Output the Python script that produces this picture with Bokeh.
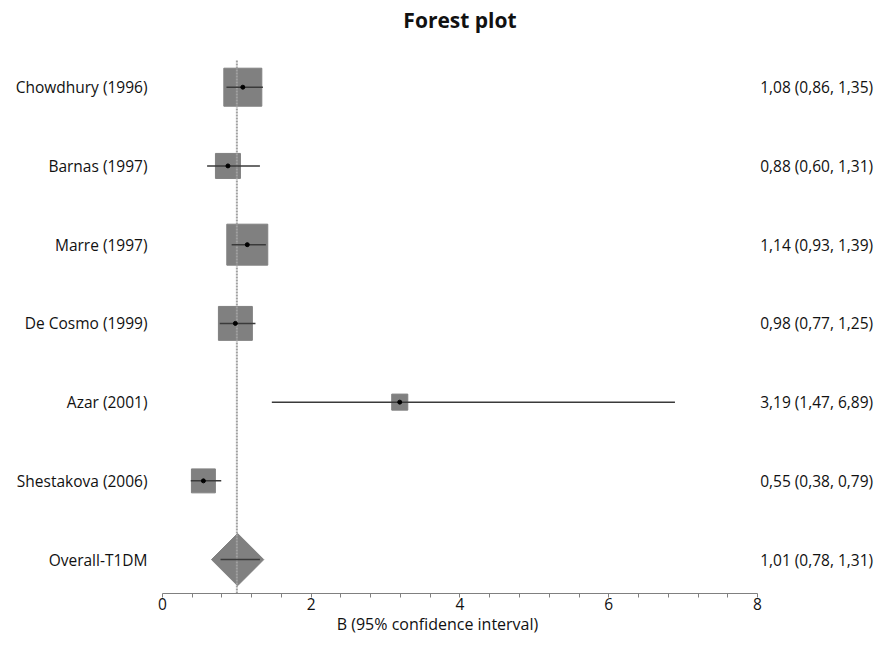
from bokeh.plotting import figure
from bokeh.models import FixedTicker, ColumnDataSource, Range1d
from bokeh.core.properties import value
from bokeh.embed import file_html
from bokeh.resources import INLINE
import numpy as np

studies = ["Chowdhury (1996)", "Barnas (1997)", "Marre (1997)", "De Cosmo (1999)",
           "Azar (2001)", "Shestakova (2006)"]
est = [1.08, 0.88, 1.14, 0.98, 3.19, 0.55]
lo = [0.86, 0.60, 0.93, 0.77, 1.47, 0.38]
hi = [1.35, 1.31, 1.39, 1.25, 6.89, 0.79]
weights = [25.2, 10.9, 29.3, 20.1, 4.5, 10.0]

overall_label = "Overall-T1DM"
overall_est = 1.01
overall_lo = 0.78
overall_hi = 1.31

major_ticks = [0, 2, 4, 6, 8]
minor_ticks = [0.4, 0.8, 1.2, 1.6, 2.4, 2.8, 3.2, 3.6, 4.4, 4.8, 5.2, 5.6,
               6.4, 6.8, 7.2, 7.6]

FONT = "Open Sans"
TXT = "#111111"
LBL = "15.5px"

def fmt(v):
    return f"{v:.2f}".replace(".", ",")

n = len(studies)
rows = list(range(n + 1, 1, -1))  # 7..2
ci_text = [f"{fmt(e)} ({fmt(l)}, {fmt(h)})" for e, l, h in zip(est, lo, hi)]
sizes = [7.57 * np.sqrt(w) for w in weights]

src = ColumnDataSource(dict(y=rows, est=est, lo=lo, hi=hi, size=sizes,
                            label=studies, ci=ci_text))

Y0, Y1 = 0.5696, 8.101
p = figure(width=874, height=637, output_backend="svg", toolbar_location=None,
           x_range=Range1d(-2.178, 9.573), y_range=Range1d(Y0, Y1),
           min_border_left=0, min_border_right=0, min_border_top=0,
           min_border_bottom=0)
p.outline_line_color = None
p.xgrid.visible = False
p.ygrid.visible = False
p.yaxis.visible = False

# boxes
p.rect(x="est", y="y", width="size", height="size", width_units="screen",
       height_units="screen", source=src, fill_color="#808080",
       line_color="#808080")

# overall diamond
p.scatter(x=[overall_est], y=[1], marker="square", size=37, angle=np.pi / 4,
          fill_color="#808080", line_color="#808080")

# reference line at 1
p.segment(x0=[1], y0=[Y0], x1=[1], y1=[7.342], line_color="#a0a0a0",
          line_width=2, line_dash="2 1")

# CI lines
p.segment(x0="lo", y0="y", x1="hi", y1="y", source=src, line_color="#3a3a3a",
          line_width=1.5)
p.segment(x0=[overall_lo], y0=[1], x1=[overall_hi], y1=[1],
          line_color="#3a3a3a", line_width=1.5)
p.scatter(x="est", y="y", source=src, size=4, color="black")

# labels
LX = -0.2017
RX = 9.555
p.text(x=LX, y="y", text="label", source=src, text_align="right",
       text_baseline="middle", text_font=value(FONT), text_font_size=LBL,
       text_color=TXT)
p.text(x=[LX], y=[1], text=[overall_label], text_align="right",
       text_baseline="middle", text_font=value(FONT), text_font_size=LBL,
       text_color=TXT)
p.text(x=RX, y="y", text="ci", source=src, text_align="right",
       text_baseline="middle", text_font=value(FONT), text_font_size=LBL,
       text_color=TXT)
p.text(x=[RX], y=[1],
       text=[f"{fmt(overall_est)} ({fmt(overall_lo)}, {fmt(overall_hi)})"],
       text_align="right", text_baseline="middle", text_font=value(FONT),
       text_font_size=LBL, text_color=TXT)

# title
p.text(x=[4.0], y=[7.848], text=["Forest plot"], text_align="center",
       text_baseline="middle", text_font=value(FONT), text_font_size="21px",
       text_font_style="bold", text_color=TXT)

ax = p.xaxis[0]
ax.bounds = (0, 8)
ax.ticker = FixedTicker(ticks=major_ticks, minor_ticks=minor_ticks)
ax.axis_line_color = "#808080"
ax.major_tick_line_color = "#808080"
ax.minor_tick_line_color = "#808080"
ax.major_tick_in = 0
ax.major_tick_out = 4
ax.minor_tick_in = 0
ax.minor_tick_out = 4
ax.major_label_standoff = 0
ax.major_label_text_font = FONT
ax.major_label_text_font_size = "15.5px"
ax.major_label_text_color = TXT
ax.axis_label = "B (95% confidence interval)"
ax.axis_label_standoff = 0
ax.axis_label_text_font = FONT
ax.axis_label_text_font_size = "16px"
ax.axis_label_text_font_style = "normal"
ax.axis_label_text_color = TXT

open("out.html", "w").write(file_html(p, INLINE))
